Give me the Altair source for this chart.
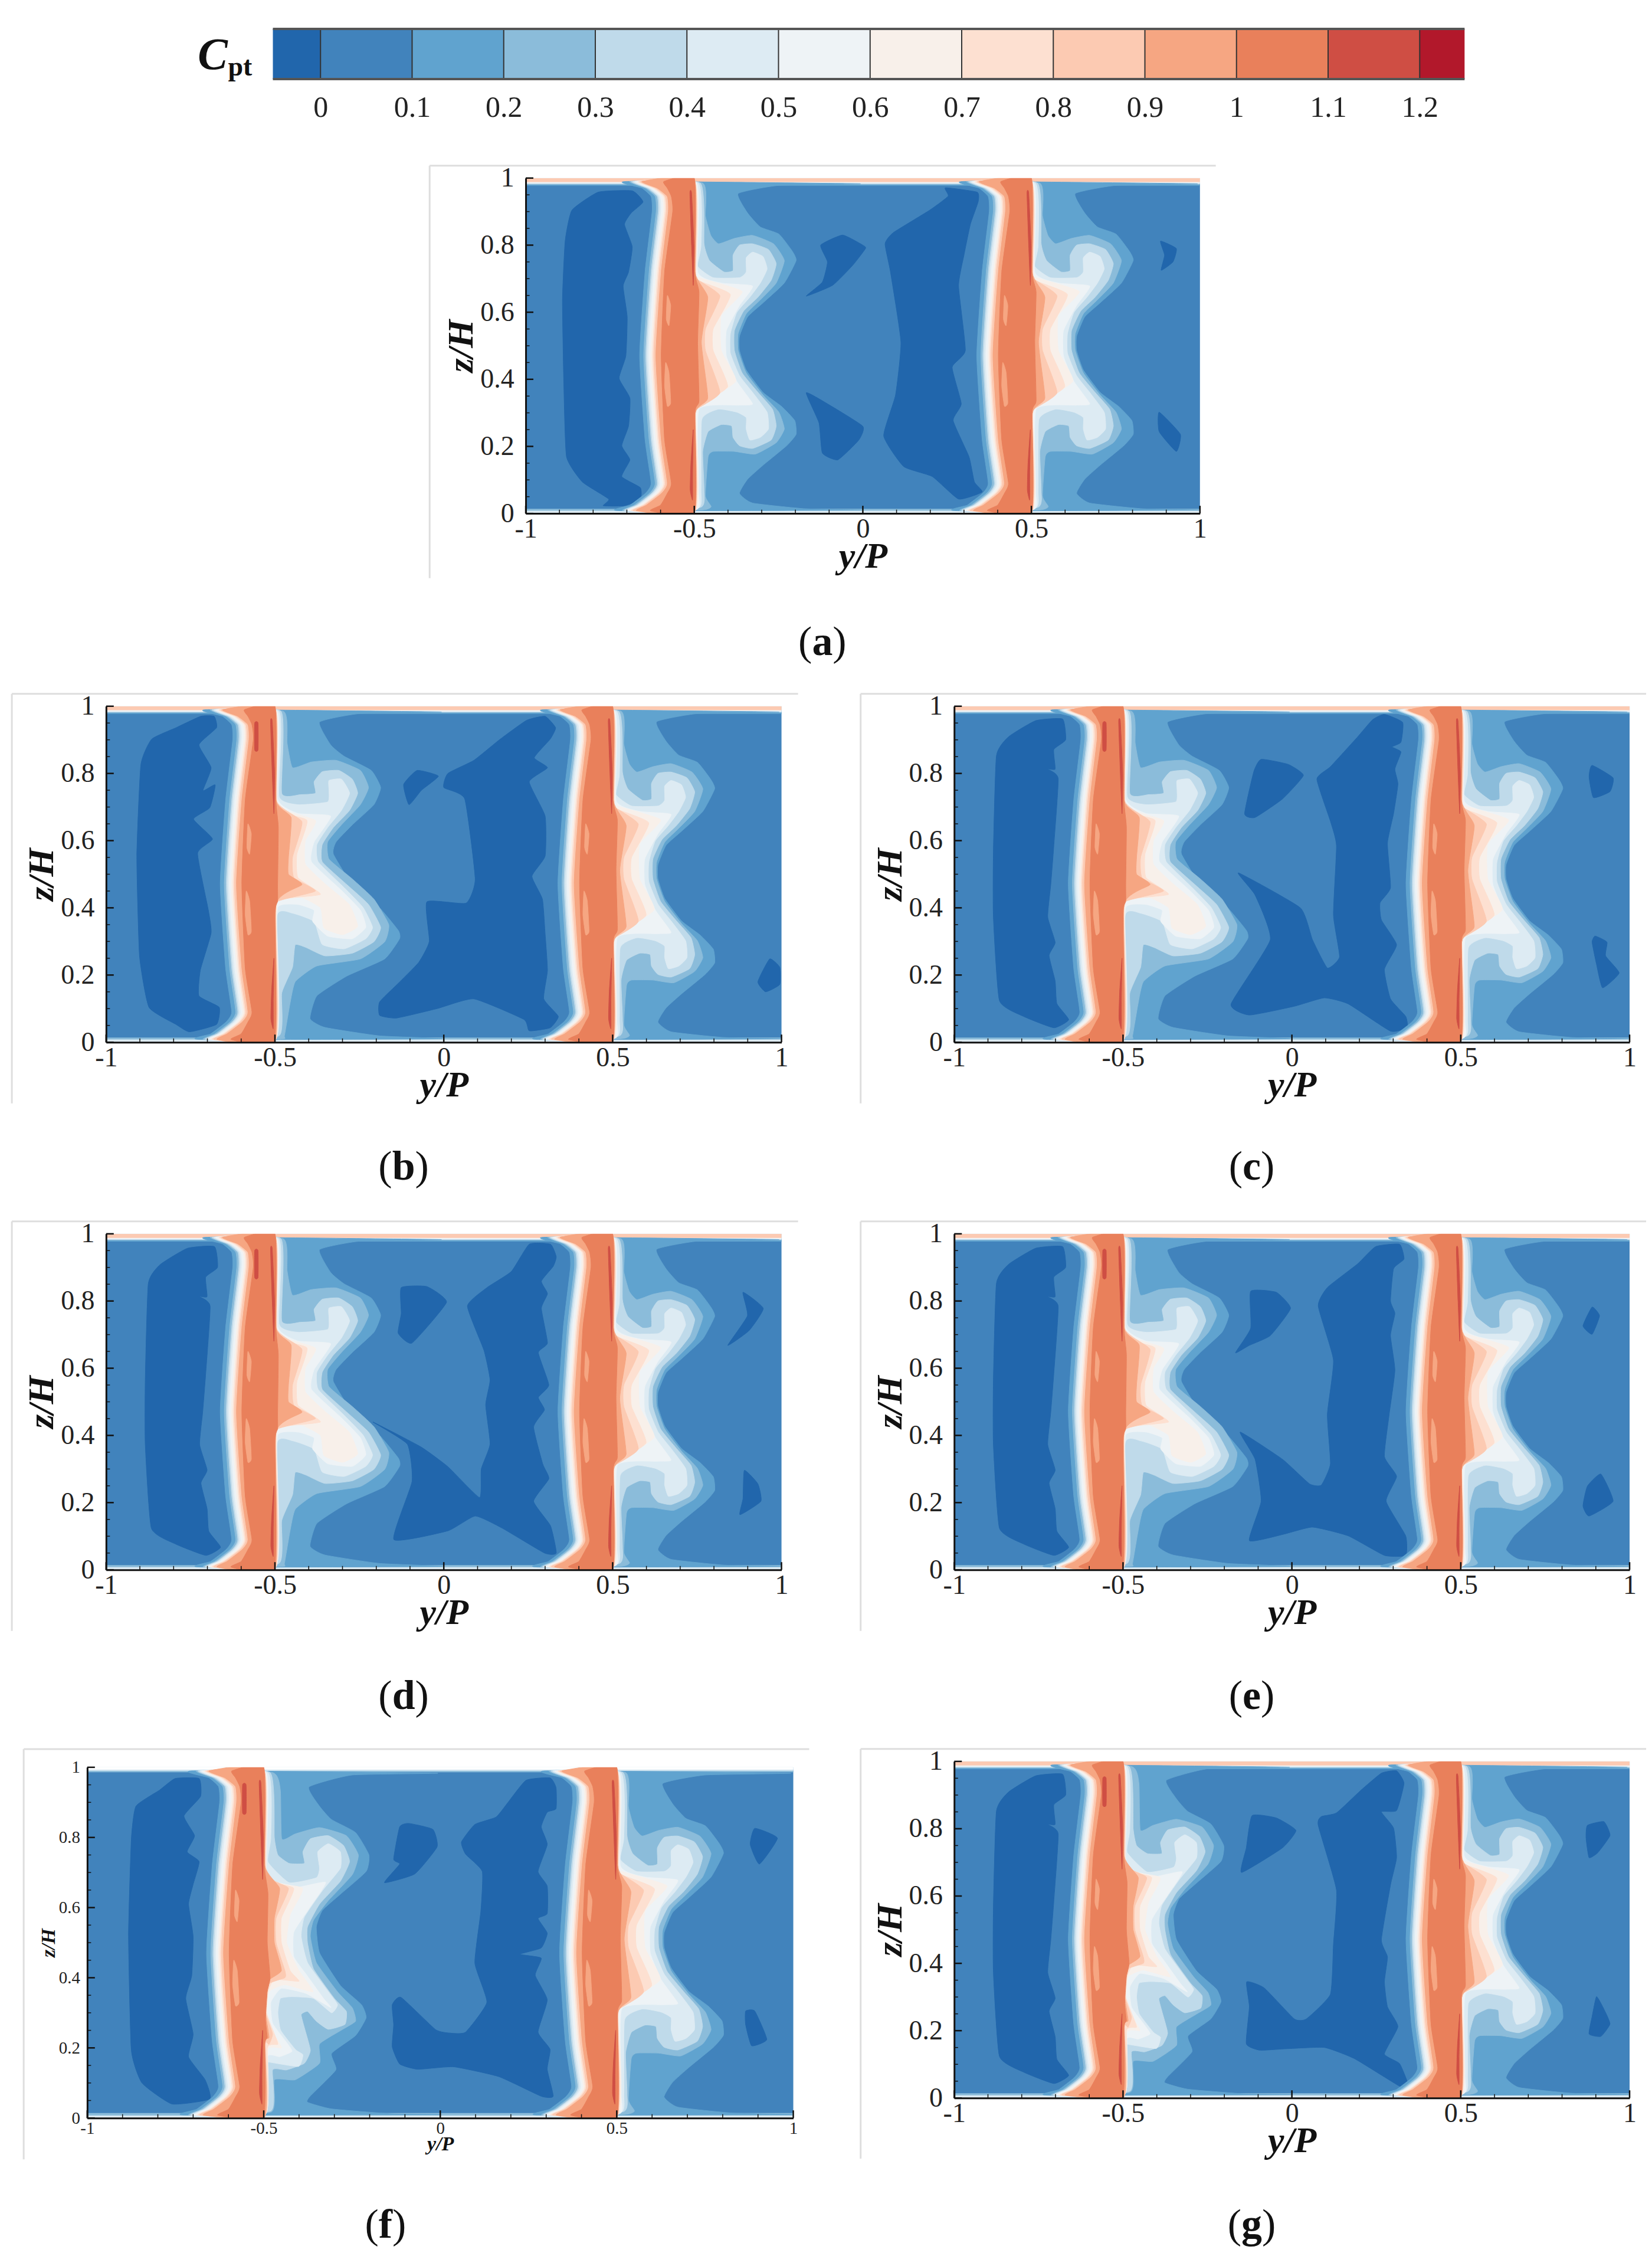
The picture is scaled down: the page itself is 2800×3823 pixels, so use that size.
import altair as alt
import pandas as pd

FONT = "Liberation Serif"
BAND = {0.0: "#2166ac", 0.05: "#4183bc", 0.1: "#60a3cf", 0.2: "#8bbcda", 0.3: "#bfdaea", 0.4: "#ddebf3", 0.5: "#eef3f6",
        0.6: "#f8f0ea", 0.7: "#fde0d1", 0.8: "#fccab2", 0.9: "#f6a682", 1.0: "#e9805b", 1.1: "#cf4e44", 1.2: "#b2182b"}

CB_EDGES = [-0.052, 0, 0.1, 0.2, 0.3, 0.4, 0.5, 0.6, 0.7, 0.8, 0.9, 1.0, 1.1, 1.2, 1.249]
CB_COLORS = ["#2166ac", "#4183bc", "#60a3cf", "#8bbcda", "#bfdaea", "#ddebf3", "#eef3f6", "#f8f0ea", "#fde0d1",
             "#fccab2", "#f6a682", "#e9805b", "#cf4e44", "#b2182b"]
CB_TICKS = [0, 0.1, 0.2, 0.3, 0.4, 0.5, 0.6, 0.7, 0.8, 0.9, 1, 1.1, 1.2]

# wake: left edge (same z rows for each level)
EDGE_Z = [.99, .97, .945, .90, .72, .47, .22, .09, .06, .025, .008]
EDGE_U = {
    0.1: [.30, .345, .372, .375, .354, .338, .354, .372, .355, .31, .28],
    0.2: [.31, .355, .384, .387, .366, .350, .366, .384, .367, .322, .29],
    0.3: [.315, .36, .39, .393, .372, .356, .372, .39, .373, .328, .295],
    0.4: [.32, .365, .394, .397, .376, .360, .376, .394, .377, .332, .30],
    0.5: [.325, .37, .399, .402, .381, .365, .381, .399, .382, .337, .305],
    0.6: [.33, .375, .405, .408, .387, .371, .387, .405, .388, .343, .31],
    0.7: [.335, .38, .41, .413, .392, .376, .392, .41, .393, .348, .315],
    0.8: [.34, .385, .414, .417, .396, .38, .396, .414, .397, .352, .32],
    0.9: [.345, .39, .42, .423, .402, .386, .402, .42, .403, .358, .33],
    1.0: [.41, .42, .432, .436, .412, .402, .412, .432, .42, .40, .37],
}

SYM = {
    0.1: [(.99, .983), (.75, .978), (.63, .954), (.658, .896), (.696, .854), (.751, .833), (.79, .783), (.802, .754), (.767, .687),
          (.704, .628), (.658, .586), (.634, .528), (.634, .486), (.654, .428), (.704, .361), (.759, .319), (.798, .277), (.802, .236),
          (.774, .202), (.704, .144), (.658, .102), (.634, .06), (.673, .031), (.829, .014), (.99, .01)],
    0.2: [(.525, .985), (.533, .887), (.549, .829), (.572, .804), (.619, .82), (.673, .829), (.735, .804), (.767, .754), (.743, .687),
          (.696, .637), (.654, .595), (.63, .536), (.63, .486), (.654, .419), (.704, .353), (.751, .302), (.767, .252), (.743, .211),
          (.681, .177), (.619, .185), (.556, .185), (.541, .169), (.533, .052), (.55, .02), (.52, .01)],
    0.3: [(.518, .985), (.529, .804), (.545, .754), (.588, .72), (.615, .724), (.615, .77), (.634, .80), (.673, .804), (.72, .787),
          (.743, .745), (.728, .695), (.689, .645), (.646, .603), (.619, .545), (.619, .486), (.642, .419), (.689, .361), (.732, .311),
          (.743, .261), (.728, .219), (.673, .194), (.634, .202), (.615, .227), (.611, .261), (.58, .265), (.541, .244), (.525, .185),
          (.529, .069), (.518, .018)],
    0.4: [(.512, .985), (.52, .80), (.51, .737), (.556, .703), (.634, .703), (.654, .72), (.654, .762), (.673, .779), (.704, .766),
          (.716, .729), (.696, .687), (.665, .645), (.626, .599), (.607, .536), (.607, .478), (.634, .411), (.673, .361), (.716, .302),
          (.72, .252), (.696, .227), (.665, .219), (.654, .252), (.654, .286), (.626, .302), (.572, .311), (.522, .28), (.52, .07), (.51, .015)],
    0.5: [(.507, .985), (.51, .72), (.58, .687), (.673, .678), (.634, .62), (.595, .545), (.595, .47), (.626, .394), (.673, .327),
          (.634, .323), (.514, .311), (.512, .07), (.507, .012)],
    0.6: [(.504, .985), (.506, .72), (.514, .703), (.642, .662), (.58, .59), (.58, .486), (.623, .394), (.514, .323), (.505, .31), (.506, .012)],
    0.7: [(.502, .985), (.505, .72), (.51, .695), (.607, .653), (.556, .55), (.556, .486), (.599, .378), (.51, .32), (.503, .30), (.503, .01)],
    0.8: [(.501, .99), (.503, .72), (.506, .70), (.576, .649), (.533, .55), (.533, .486), (.576, .36), (.506, .31), (.501, .28), (.501, .005)],
    0.9: [(.5, .998), (.502, .72), (.54, .645), (.521, .51), (.54, .344), (.503, .298), (.5, .002)],
    1.0: [(.5, 1.0), (.502, .72), (.514, .66), (.51, .51), (.514, .336), (.502, .30), (.5, 0.0)],
}

BIG = {
    0.1: [(.99, .983), (.75, .978), (.632, .953), (.665, .885), (.705, .851), (.785, .809), (.813, .758), (.793, .707), (.729, .647),
          (.681, .596), (.673, .56), (.729, .469), (.809, .401), (.865, .333), (.869, .308), (.825, .248), (.713, .197), (.624, .138),
          (.604, .07), (.648, .044), (.809, .019), (.99, .01)],
    0.2: [(.525, .985), (.536, .89), (.552, .817), (.608, .834), (.681, .839), (.753, .809), (.777, .758), (.753, .707), (.697, .647),
          (.656, .596), (.66, .545), (.729, .486), (.793, .426), (.837, .35), (.825, .299), (.753, .248), (.624, .227), (.56, .18),
          (.544, .112), (.528, .019), (.52, .01)],
    0.3: [(.518, .985), (.52, .741), (.576, .737), (.62, .741), (.616, .775), (.64, .805), (.689, .809), (.729, .783), (.745, .741),
          (.721, .69), (.673, .639), (.64, .588), (.64, .537), (.713, .469), (.777, .41), (.813, .342), (.793, .299), (.729, .265),
          (.648, .257), (.592, .282), (.56, .29), (.552, .223), (.52, .146), (.512, .019)],
    0.4: [(.512, .985), (.512, .732), (.568, .707), (.656, .715), (.66, .749), (.66, .779), (.697, .783), (.721, .741), (.697, .69),
          (.656, .639), (.624, .588), (.628, .537), (.705, .46), (.761, .401), (.789, .342), (.769, .308), (.705, .278), (.64, .291),
          (.616, .359), (.552, .384), (.506, .376), (.506, .02)],
    0.5: [(.507, .985), (.508, .724), (.568, .681), (.665, .673), (.616, .596), (.608, .537), (.697, .452), (.753, .393), (.769, .342),
          (.729, .308), (.656, .316), (.612, .359), (.616, .393), (.568, .41), (.508, .401), (.503, .214), (.503, .012)],
    0.6: [(.504, .985), (.505, .71), (.62, .66), (.59, .60), (.59, .53), (.65, .47), (.72, .41), (.745, .345), (.70, .32), (.645, .34),
          (.635, .40), (.575, .432), (.51, .42), (.505, .37), (.504, .01)],
    0.7: [(.502, .985), (.508, .70), (.595, .66), (.565, .56), (.568, .49), (.635, .44), (.512, .425), (.503, .38), (.503, .01)],
    0.8: [(.501, .99), (.504, .72), (.58, .656), (.552, .55), (.556, .49), (.62, .45), (.51, .42), (.501, .37), (.501, .005)],
    0.9: [(.5, .998), (.503, .72), (.548, .669), (.54, .55), (.54, .50), (.58, .469), (.503, .41), (.5, .002)],
    1.0: [(.5, 1.0), (.503, .72), (.51, .64), (.508, .47), (.508, .42), (.5, .38), (.498, 0.0)],
}

DBL = {
    0.1: [(.99, .983), (.75, .978), (.628, .944), (.658, .889), (.692, .851), (.76, .814), (.798, .75), (.79, .703), (.717, .638),
          (.666, .592), (.649, .545), (.658, .471), (.717, .378), (.777, .323), (.79, .286), (.76, .235), (.692, .184), (.704, .137),
          (.632, .063), (.624, .045), (.692, .026), (.862, .012), (.99, .01)],
    0.2: [(.525, .985), (.547, .935), (.551, .796), (.589, .81), (.658, .828), (.734, .805), (.768, .75), (.751, .694), (.683, .62),
          (.641, .564), (.632, .518), (.649, .443), (.709, .36), (.751, .314), (.76, .276), (.717, .249), (.658, .211), (.658, .156),
          (.589, .109), (.53, .109), (.521, .017)],
    0.3: [(.518, .985), (.53, .80), (.54, .75), (.572, .726), (.615, .726), (.611, .759), (.632, .796), (.683, .805), (.726, .777),
          (.743, .731), (.717, .675), (.658, .61), (.624, .545), (.624, .499), (.641, .425), (.7, .341), (.734, .304), (.73, .267),
          (.683, .253), (.649, .276), (.624, .304), (.606, .295), (.615, .258), (.632, .193), (.615, .156), (.564, .137), (.525, .137),
          (.52, .02)],
    0.4: [(.512, .985), (.52, .80), (.512, .73), (.572, .671), (.649, .685), (.658, .712), (.653, .759), (.683, .782), (.717, .759),
          (.717, .712), (.666, .648), (.615, .573), (.606, .518), (.624, .443), (.683, .36), (.709, .323), (.692, .3), (.641, .341),
          (.581, .346), (.547, .341), (.54, .30), (.548, .25), (.59, .195), (.611, .18), (.598, .147), (.51, .16), (.505, .15), (.505, .015)],
    0.5: [(.507, .985), (.508, .70), (.575, .655), (.675, .672), (.63, .60), (.585, .53), (.585, .46), (.62, .41), (.67, .34), (.69, .315),
          (.62, .355), (.55, .37), (.52, .33), (.525, .27), (.565, .215), (.58, .19), (.545, .175), (.51, .175), (.505, .012)],
    0.6: [(.504, .985), (.51, .69), (.61, .655), (.575, .58), (.565, .50), (.60, .42), (.64, .36), (.56, .38), (.515, .36), (.51, .29),
          (.535, .23), (.55, .20), (.512, .195), (.505, .01)],
    0.7: [(.502, .985), (.508, .69), (.585, .655), (.55, .57), (.55, .50), (.575, .42), (.60, .39), (.53, .395), (.512, .36), (.508, .30),
          (.53, .24), (.54, .21), (.51, .20), (.505, .01)],
    0.8: [(.501, .99), (.505, .70), (.57, .655), (.535, .57), (.535, .50), (.56, .42), (.56, .40), (.51, .38), (.506, .30), (.525, .24),
          (.515, .21), (.504, .21), (.503, .005)],
    0.9: [(.5, .998), (.503, .72), (.545, .655), (.53, .57), (.53, .50), (.55, .42), (.505, .385), (.505, .30), (.515, .23), (.503, .215), (.502, .002)],
    1.0: [(.5, 1.0), (.502, .72), (.512, .64), (.51, .50), (.518, .40), (.51, .36), (.505, .28), (.51, .23), (.503, .21), (.498, 0.0)],
}

RED_STREAKS = [[(.487, .955), (.492, .955), (.499, .80), (.497, .68), (.492, .80)],
               [(.497, .25), (.495, .12), (.495, .04), (.488, .07), (.49, .15)]]
RED_EXTRA = [(.44, .95), (.45, .95), (.45, .87), (.44, .87)]
PALE_ISLANDS = [[(.42, .65), (.43, .62), (.425, .56), (.417, .58)],
                [(.415, .45), (.425, .42), (.43, .33), (.42, .32), (.412, .38)]]

# dark (below 0) patches, panel by panel
DARK_A = [
    [(-.785, .958), (-.684, .962), (-.652, .929), (-.687, .896), (-.707, .862), (-.684, .795), (-.695, .72), (-.711, .678), (-.699, .586),
     (-.703, .47), (-.723, .403), (-.691, .344), (-.695, .261), (-.715, .202), (-.691, .16), (-.715, .11), (-.66, .077), (-.66, .043),
     (-.707, .023), (-.77, .023), (-.754, .043), (-.832, .094), (-.879, .169), (-.887, .386), (-.891, .637), (-.883, .812), (-.863, .904)],
    [(-.168, .648), (-.12, .69), (-.105, .75), (-.125, .80), (-.06, .83), (0, .80), (.008, .79), (-.03, .74), (-.09, .68)],
    [(-.168, .36), (-.105, .327), (0, .26), (-.012, .219), (-.074, .16), (-.12, .18), (-.13, .27)],
    [(.245, .971), (.339, .958), (.342, .929), (.319, .862), (.30, .77), (.284, .678), (.304, .486), (.265, .436), (.292, .327), (.268, .277),
     (.315, .169), (.331, .094), (.354, .064), (.284, .043), (.206, .11), (.121, .14), (.062, .231), (.097, .353), (.113, .511), (.082, .72),
     (.066, .804), (.09, .837), (.198, .904), (.253, .946)],
    [(.883, .812), (.93, .79), (.92, .75), (.885, .725), (.895, .77)],
    [(.879, .302), (.942, .236), (.93, .185), (.879, .244)],
]
DARK_B = [
    [(-.72, .97), (-.68, .97), (-.673, .936), (-.725, .885), (-.689, .817), (-.713, .749), (-.677, .766), (-.693, .698), (-.741, .664),
     (-.685, .605), (-.729, .562), (-.697, .392), (-.689, .325), (-.721, .214), (-.725, .138), (-.665, .104), (-.673, .053), (-.753, .031),
     (-.793, .053), (-.873, .104), (-.901, .257), (-.909, .554), (-.897, .826), (-.865, .902), (-.793, .936)],
    [(-.119, .767), (-.079, .809), (-.016, .792), (-.066, .75), (-.103, .707)],
    [(.245, .958), (.30, .97), (.331, .936), (.315, .902), (.268, .847), (.307, .817), (.253, .775), (.30, .673), (.30, .554), (.261, .494),
     (.292, .426), (.30, .324), (.307, .214), (.296, .129), (.339, .077), (.315, .043), (.253, .034), (.237, .068), (.089, .129), (-.02, .10),
     (-.14, .072), (-.19, .08), (-.19, .12), (-.13, .18), (-.074, .238), (-.043, .30), (-.05, .418), (.066, .414), (.093, .486), (.062, .724),
     (0, .758), (.012, .80), (.089, .839), (.167, .902)],
    [(.93, .18), (.965, .248), (.995, .223), (.995, .172), (.953, .15)],
]
CORE_G = [(-.759, .957), (-.679, .962), (-.67, .9), (-.705, .871), (-.701, .813), (-.723, .813), (-.692, .785), (-.705, .584), (-.714, .469),
          (-.723, .373), (-.701, .297), (-.719, .258), (-.701, .182), (-.696, .115), (-.661, .067), (-.705, .043), (-.795, .077), (-.866, .124),
          (-.884, .373), (-.884, .565), (-.875, .852), (-.839, .909)]
DARK_C = [
    CORE_G,
    [(-.091, .842), (-.011, .827), (.034, .794), (-.028, .724), (-.109, .669), (-.14, .68), (-.113, .805)],
    [(.239, .96), (.274, .976), (.328, .952), (.323, .893), (.297, .879), (.323, .864), (.305, .813), (.314, .768), (.301, .68), (.283, .592),
     (.292, .46), (.261, .415), (.265, .364), (.31, .29), (.274, .217), (.292, .129), (.337, .077), (.341, .044), (.292, .033), (.167, .114),
     (.096, .132), (.007, .107), (-.126, .081), (-.18, .114), (-.064, .305), (-.109, .438), (-.158, .504), (.025, .40), (.061, .305), (.105, .221),
     (.141, .254), (.123, .379), (.132, .585), (.114, .658), (.074, .783), (.114, .82), (.194, .908)],
    [(.889, .824), (.951, .787), (.942, .746), (.893, .728), (.88, .79)],
    [(.898, .316), (.933, .298), (.929, .257), (.969, .206), (.92, .162), (.902, .232), (.889, .298)],
]
DARK_D = [
    CORE_G,
    [(-.126, .84), (-.05, .843), (.008, .796), (-.094, .675), (-.135, .704), (-.126, .763)],
    [(.253, .969), (.316, .969), (.333, .932), (.324, .903), (.289, .859), (.307, .822), (.289, .778), (.307, .675), (.28, .646), (.311, .55),
     (.28, .513), (.298, .476), (.266, .425), (.293, .315), (.311, .271), (.266, .204), (.316, .131), (.333, .05), (.298, .05), (.173, .124),
     (.093, .16), (.012, .116), (-.148, .09), (-.094, .263), (-.108, .374), (-.21, .44), (-.068, .366), (.012, .307), (.106, .215), (.111, .30),
     (.137, .374), (.124, .491), (.137, .565), (.119, .653), (.07, .785), (.128, .84), (.2, .888)],
    [(.886, .826), (.946, .778), (.904, .712), (.841, .668), (.899, .756)],
    [(.89, .296), (.93, .256), (.939, .204), (.877, .164), (.886, .212)],
]
DARK_E = [
    CORE_G,
    [(-.122, .829), (-.046, .826), (-.004, .778), (-.064, .697), (-.126, .668), (-.167, .646), (-.122, .719)],
    [(.248, .962), (.319, .969), (.332, .925), (.301, .896), (.292, .8), (.305, .763), (.292, .697), (.305, .594), (.288, .462), (.274, .337),
     (.31, .278), (.279, .204), (.337, .101), (.337, .043), (.274, .043), (.167, .101), (.061, .127), (-.028, .105), (-.126, .087), (-.091, .204),
     (-.109, .329), (-.153, .41), (-.028, .329), (.052, .256), (.087, .252), (.114, .315), (.105, .462), (.123, .624), (.078, .785), (.105, .84),
     (.194, .91)],
    [(.889, .782), (.911, .756), (.889, .701), (.862, .726)],
    [(.915, .285), (.951, .204), (.88, .16), (.862, .19), (.875, .249)],
]
DARK_F = [
    [(-.751, .968), (-.683, .968), (-.679, .917), (-.726, .861), (-.696, .805), (-.717, .759), (-.683, .731), (-.7, .666), (-.713, .61), (-.7, .518),
     (-.704, .406), (-.721, .341), (-.7, .239), (-.713, .174), (-.666, .109), (-.653, .054), (-.76, .04), (-.845, .1), (-.875, .193), (-.883, .518),
     (-.875, .796), (-.862, .889), (-.795, .935)],
    [(-.115, .83), (-.089, .84), (-.021, .823), (-.009, .773), (-.072, .696), (-.158, .671), (-.115, .724), (-.132, .738)],
    [(.243, .963), (.311, .97), (.328, .942), (.328, .882), (.303, .872), (.286, .83), (.303, .78), (.277, .703), (.303, .661), (.303, .583),
     (.277, .569), (.303, .527), (.286, .485), (.226, .467), (.286, .456), (.269, .407), (.303, .337), (.277, .245), (.311, .196), (.303, .139),
     (.32, .062), (.286, .062), (.166, .118), (.038, .146), (-.064, .139), (-.115, .154), (-.136, .203), (-.132, .266), (-.136, .323), (-.111, .344),
     (-.013, .252), (.03, .242), (.072, .245), (.132, .33), (.098, .442), (.115, .59), (.119, .703), (.072, .752), (.06, .787), (.098, .837),
     (.158, .858), (.192, .9)],
    [(.891, .826), (.955, .798), (.904, .724), (.878, .78)],
    [(.865, .305), (.891, .305), (.925, .224), (.882, .206), (.865, .266)],
]
DARK_G = [
    CORE_G,
    [(-.118, .839), (-.046, .832), (.012, .795), (-.028, .743), (-.149, .67), (-.135, .743)],
    [(.265, .965), (.31, .972), (.332, .935), (.31, .854), (.265, .85), (.301, .802), (.31, .714), (.292, .633), (.265, .47), (.283, .419),
     (.274, .345), (.283, .271), (.314, .212), (.274, .131), (.319, .102), (.346, .035), (.319, .035), (.185, .117), (.096, .15), (-.02, .146),
     (-.095, .142), (-.135, .161), (-.126, .271), (-.134, .345), (-.082, .327), (.007, .235), (.043, .235), (.114, .308), (.123, .456), (.132, .618),
     (.078, .81), (.087, .836), (.132, .847), (.203, .913)],
    [(.875, .81), (.924, .821), (.942, .78), (.906, .729), (.88, .714), (.871, .773)],
    [(.902, .301), (.924, .264), (.942, .22), (.915, .183), (.88, .19), (.889, .242)],
]

STRIPS_STD = [(.977, 1.0, "#60a3cf"), (.981, 1.0, "#bfdaea"), (.984, 1.0, "#eef3f6"), (.988, 1.0, "#fccab2"),
              (0.0, .014, "#8bbcda"), (0.0, .008, "#ddebf3")]
STRIPS_F = [(.986, 1.0, "#8bbcda"), (.99, 1.0, "#ddebf3"), (.994, 1.0, "#ffffff"), (0.0, .014, "#8bbcda"), (0.0, .007, "#ddebf3")]
MASKS = [(1.0, 1.03), (-.03, 0.0)]

X_MAJOR = [-1, -0.5, 0, 0.5, 1]
X_MINOR = [-.9, -.8, -.7, -.6, -.4, -.3, -.2, -.1, .1, .2, .3, .4, .6, .7, .8, .9]
Y_MAJOR = [0, .2, .4, .6, .8, 1]
Y_MINOR = [.05, .1, .15, .25, .3, .35, .45, .5, .55, .65, .7, .75, .85, .9, .95]

CELL_X = {"L": 178, "R": 1617}
COL_W = {"L": 1439, "R": 1146}
ROW_TOP = {"cb": 49, "a": 302, "bc": 1198, "de": 2094, "fg": 2990}
ROW_H = {"cb": 253, "a": 896, "bc": 896, "de": 896, "fg": 700}

#        left/right/top/bottom of plot, cell column and row, left wake, dark, strips, frame(l,r,t,b), caption(u,z), font sizes
PANELS = {
    "a": dict(geo=(890, 2034, 302, 871), col="L", row="a", wake=SYM, dark=DARK_A, strips=STRIPS_STD, frame=(-1.285, 1.047, 1.037, -.193), cap=(-.12, -.385), fs=(46, 62)),
    "b": dict(geo=(178, 1324, 1198, 1768), col="L", row="bc", wake=BIG, dark=DARK_B, strips=STRIPS_STD, frame=(-1.279, 1.049, 1.037, -.182), cap=(-.119, -.372), fs=(46, 62)),
    "c": dict(geo=(1617, 2763, 1198, 1768), col="R", row="bc", wake=BIG, dark=DARK_C, strips=STRIPS_STD, frame=(-1.277, 1.049, 1.037, -.182), cap=(-.119, -.372), fs=(46, 62)),
    "d": dict(geo=(178, 1324, 2093, 2663), col="L", row="de", wake=BIG, dark=DARK_D, strips=STRIPS_STD, frame=(-1.279, 1.049, 1.037, -.182), cap=(-.119, -.378), fs=(46, 62)),
    "e": dict(geo=(1617, 2763, 2093, 2663), col="R", row="de", wake=BIG, dark=DARK_E, strips=STRIPS_STD, frame=(-1.277, 1.049, 1.037, -.182), cap=(-.119, -.378), fs=(46, 62)),
    "f": dict(geo=(146, 1344, 2998, 3593), col="L", row="fg", wake=DBL, dark=DARK_F, strips=STRIPS_F, frame=(-1.18, 1.045, 1.052, -.118), cap=(-.155, -.306), fs=(29, 34)),
    "g": dict(geo=(1617, 2763, 2988, 3559), col="R", row="fg", wake=DBL, dark=DARK_G, strips=STRIPS_STD, frame=(-1.277, 1.049, 1.037, -.18), cap=(-.119, -.379), fs=(46, 62)),
}


def poly_rows(polys):
    rows = []
    for pid, (color, pts) in enumerate(polys):
        for i, (u, z) in enumerate(pts):
            rows.append(dict(pid=pid, color=color, i=i, u=u, z=z))
    return rows


def wake_polys(template, shift):
    out = []
    for lev, right in template.items():
        left = [(u + shift, z) for u, z in zip(EDGE_U[lev], EDGE_Z)][::-1]
        out.append((BAND[lev], left + [(u + shift, z) for u, z in right]))
    return out


def panel(name):
    p = PANELS[name]
    l, r, t, b = p["geo"]
    cx, cy = CELL_X[p["col"]], ROW_TOP[p["row"]]
    cw, ch = COL_W[p["col"]], ROW_H[p["row"]]
    xs = alt.Scale(domain=[-1, 1], range=[l - cx, r - cx], nice=False, zero=False)
    ys = alt.Scale(domain=[0, 1], range=[b - cy, t - cy], nice=False, zero=False)
    ls, ts = p["fs"]
    common = dict(ticks=False, grid=False, domainColor="#111", domainWidth=3, labelFont=FONT, labelFontSize=ls, labelColor="#222",
                  labelOverlap=False, labelFlush=False, labelBound=False, titleFont=FONT, titleFontSize=ts, titleFontStyle="italic",
                  titleFontWeight="bold", titleColor="#111", format="~g", zindex=1,
                  labelExpr="replace(datum.label, '\u2212', '-')")
    ax_x = alt.Axis(values=X_MAJOR, title="y/P", offset=-(ch - (b - cy)), labelPadding=ls * 0.1, titlePadding=-ls * 0.16, **common)
    ax_y = alt.Axis(values=Y_MAJOR, title="z/H", offset=-(l - cx), labelPadding=ls * 0.43, titlePadding=0, **common)
    X = alt.X("u:Q", scale=xs, axis=ax_x)
    Y = alt.Y("z:Q", scale=ys, axis=ax_y)
    X2 = alt.X("a:Q", scale=xs, axis=ax_x)
    Y2 = alt.Y("c:Q", scale=ys, axis=ax_y)

    base = alt.Chart(pd.DataFrame({"a": [-1], "b": [1], "c": [0], "d": [1]})).mark_rect(color=BAND[0.05]).encode(
        x=X2, x2="b:Q", y=Y2, y2="d:Q")

    fill_line = dict(interpolate="cardinal-closed", tension=0.55, strokeWidth=1)
    enc = dict(x=X, y=Y, detail="pid:N", order=alt.Order("i:Q"),
               fill=alt.Fill("color:N", scale=None), stroke=alt.Stroke("color:N", scale=None))

    dark = alt.Chart(pd.DataFrame(poly_rows([(BAND[0.0], d) for d in p["dark"]]))).mark_line(**fill_line).encode(**enc)

    strips = alt.Chart(pd.DataFrame([dict(a=-1, b=1, c=s[0], d=s[1], color=s[2]) for s in p["strips"]])).mark_rect().encode(
        x=X2, x2="b:Q", y=Y2, y2="d:Q", color=alt.Color("color:N", scale=None), order=alt.Order("a:Q"))

    polys = wake_polys(p["wake"], -1) + wake_polys(SYM, 0)
    polys = sorted(polys, key=lambda q: list(BAND.values()).index(q[0]))
    polys += [(BAND[0.9], [(u, z) for u, z in isl]) for isl in PALE_ISLANDS]
    polys += [(BAND[0.9], [(u - 1, z) for u, z in isl]) for isl in PALE_ISLANDS]
    for s in RED_STREAKS:
        polys.append((BAND[1.1], s))
        polys.append((BAND[1.1], [(u - 1, z) for u, z in s]))
    if name != "a":
        polys.append((BAND[1.1], [(u - 1, z) for u, z in RED_EXTRA]))
    wakes = alt.Chart(pd.DataFrame(poly_rows(polys))).mark_line(**fill_line).encode(**enc)

    mask = alt.Chart(pd.DataFrame([dict(a=-1.01, b=1.01, c=m[0], d=m[1]) for m in MASKS])).mark_rect(color="#ffffff").encode(
        x=X2, x2="b:Q", y=Y2, y2="d:Q")

    fl, fr, ft, fb = p["frame"]
    frame = alt.Chart(pd.DataFrame([dict(a=fl, b=fr, c=ft, d=ft), dict(a=fl, b=fl, c=ft, d=fb)])).mark_rule(color="#dedede", strokeWidth=3).encode(
        x=X2, x2="b:Q", y=Y2, y2="d:Q")

    dx = 13 / (r - l) * 2
    dy = 13 / (b - t)
    tick_rows = []
    for v in X_MAJOR:
        tick_rows.append(dict(a=v, b=v, c=0, d=dy, w=2.5))
    for v in X_MINOR:
        tick_rows.append(dict(a=v, b=v, c=0, d=dy / 2, w=1.5))
    for v in Y_MAJOR:
        tick_rows.append(dict(a=-1, b=-1 + dx, c=v, d=v, w=2.5))
    for v in Y_MINOR:
        tick_rows.append(dict(a=-1, b=-1 + dx / 2, c=v, d=v, w=1.5))
    ticks = alt.Chart(pd.DataFrame(tick_rows)).mark_rule(color="#111").encode(
        x=X2, x2="b:Q", y=Y2, y2="d:Q", strokeWidth=alt.StrokeWidth("w:Q", scale=None))

    cu, cz = p["cap"]
    cap_size = 70
    unit = 2 / (r - l)
    letter_w = {"a": .5, "b": .556, "c": .444, "d": .556, "e": .444, "f": .333, "g": .5}[name] * cap_size
    cap1 = alt.Chart(pd.DataFrame([dict(a=cu - (letter_w / 2) * unit, c=cz, t="(")])).mark_text(
        font=FONT, fontSize=cap_size, align="right", baseline="middle", color="#111").encode(x=X2, y=Y2, text="t:N")
    cap2 = alt.Chart(pd.DataFrame([dict(a=cu, c=cz, t=name)])).mark_text(
        font=FONT, fontSize=cap_size, fontWeight="bold", align="center", baseline="middle", color="#111").encode(x=X2, y=Y2, text="t:N")
    cap3 = alt.Chart(pd.DataFrame([dict(a=cu + (letter_w / 2) * unit, c=cz, t=")")])).mark_text(
        font=FONT, fontSize=cap_size, align="left", baseline="middle", color="#111").encode(x=X2, y=Y2, text="t:N")

    return alt.layer(base, frame, dark, strips, wakes, mask, ticks, cap1, cap2, cap3).properties(width=cw, height=ch)


def colorbar():
    bl, br = 461, 2483
    cell = CELL_X["L"]
    xs = alt.Scale(domain=[CB_EDGES[0], CB_EDGES[-1]], range=[bl - cell, br - cell], nice=False, zero=False)
    ys = alt.Scale(domain=[0, 1], range=[85, 0], nice=False, zero=False)
    ax = alt.Axis(values=CB_TICKS, format="~g", title=None, ticks=False, domain=False, grid=False, offset=-(ROW_H["cb"] - 85),
                  labelFont=FONT, labelFontSize=50, labelColor="#222", labelPadding=24, labelOverlap=False,
                  labelFlush=False, labelBound=False)
    XA = alt.X("a:Q", scale=xs, axis=ax)
    YA = alt.Y("c:Q", scale=ys, axis=None)
    rows = [dict(a=CB_EDGES[i], b=CB_EDGES[i + 1], color=CB_COLORS[i], c=0, d=1) for i in range(len(CB_COLORS))]
    bars = alt.Chart(pd.DataFrame(rows)).mark_rect().encode(x=XA, x2="b:Q", y=YA, y2="d:Q", color=alt.Color("color:N", scale=None))
    seps = alt.Chart(pd.DataFrame({"a": CB_TICKS, "c": [0] * len(CB_TICKS), "d": [1] * len(CB_TICKS)})).mark_rule(color="#333", strokeWidth=2).encode(
        x=XA, y=YA, y2="d:Q")
    edge = alt.Chart(pd.DataFrame({"a": [CB_EDGES[0]] * 2, "b": [CB_EDGES[-1]] * 2, "c": [0, 1]})).mark_rule(color="#555", strokeWidth=4).encode(
        x=XA, x2="b:Q", y=YA)
    c_t = alt.Chart(pd.DataFrame([dict(a=-.134, c=.2, t="C")])).mark_text(
        font=FONT, fontSize=76, fontStyle="italic", fontWeight="bold", align="left", baseline="alphabetic", color="#111").encode(
        x=XA, y=YA, text="t:N")
    pt_t = alt.Chart(pd.DataFrame([dict(a=-.101, c=.07, t="pt")])).mark_text(
        font=FONT, fontSize=46, fontWeight="bold", align="left", baseline="alphabetic", color="#111").encode(
        x=XA, y=YA, text="t:N")
    return alt.layer(bars, seps, edge, c_t, pt_t).properties(width=COL_W["L"], height=ROW_H["cb"])


def blank(row):
    return alt.Chart(pd.DataFrame({"a": [0]})).mark_point(opacity=0).encode(x=alt.value(0), y=alt.value(0)).properties(
        width=COL_W["R"], height=ROW_H[row])


chart = alt.concat(colorbar(), blank("cb"), panel("a"), blank("a"), panel("b"), panel("c"), panel("d"), panel("e"), panel("f"), panel("g"),
                   columns=2, spacing=0, bounds="flush").properties(
    padding={"left": 10, "top": 36, "right": 0, "bottom": 0}
).configure_view(stroke=None)

chart.save("out.html", embed_options={"renderer": "svg", "actions": False})
